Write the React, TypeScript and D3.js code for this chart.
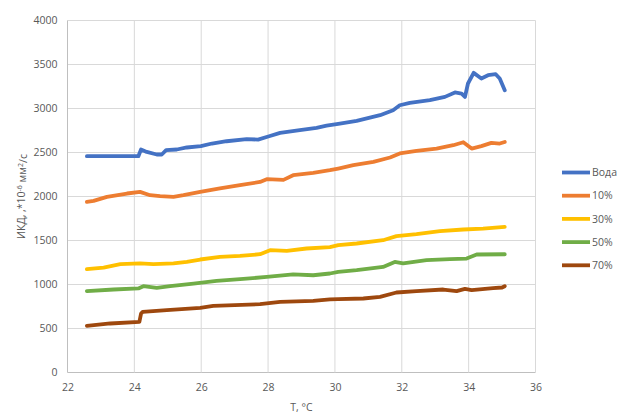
import React, { useEffect, useRef } from 'react';
import * as d3 from 'd3';

type Pt = [number, number];

const xTicks = [22, 24, 26, 28, 30, 32, 34, 36];
const yTicks = [0, 500, 1000, 1500, 2000, 2500, 3000, 3500, 4000];

const seriesNames = ['Вода', '10%', '30%', '50%', '70%'];
const seriesColors = ['#4472C4', '#ED7D31', '#FFC000', '#70AD47', '#9E480E'];

const voda: Pt[] = [
    [22.58, 2458], [24.12, 2458], [24.2, 2534], [24.37, 2507], [24.67, 2477], [24.82, 2477],
    [24.95, 2526], [25.27, 2534], [25.57, 2557], [25.99, 2572], [26.32, 2602], [26.76, 2628],
    [27.36, 2651], [27.7, 2647], [28.03, 2685], [28.36, 2723], [28.95, 2753], [29.45, 2780],
    [29.75, 2805], [30.1, 2825], [30.65, 2859], [31.35, 2924], [31.74, 2981], [31.94, 3037],
    [32.24, 3064], [32.84, 3094], [33.29, 3132], [33.59, 3182], [33.79, 3170], [33.89, 3132],
    [33.98, 3284], [34.15, 3405], [34.38, 3341], [34.58, 3378], [34.81, 3390], [34.93, 3341],
    [35.08, 3208]
];

const pct10: Pt[] = [
    [22.58, 1939], [22.78, 1950], [23.18, 1996], [23.78, 2034], [24.17, 2053], [24.47, 2015],
    [24.77, 2004], [25.17, 1996], [25.47, 2015], [25.97, 2053], [26.56, 2091], [27.16, 2128],
    [27.76, 2166], [27.96, 2197], [28.46, 2189], [28.75, 2242], [29.35, 2268], [29.85, 2299],
    [30.1, 2318], [30.55, 2356], [31.15, 2393], [31.65, 2443], [31.94, 2489], [32.44, 2518],
    [33.04, 2545], [33.54, 2583], [33.84, 2617], [34.09, 2545], [34.38, 2572], [34.68, 2609],
    [34.93, 2602], [35.08, 2620]
];

const pct30: Pt[] = [
    [22.58, 1174], [23.08, 1193], [23.58, 1231], [24.17, 1239], [24.57, 1231], [25.17, 1239],
    [25.57, 1257], [25.97, 1284], [26.56, 1314], [27.16, 1325], [27.76, 1344], [28.06, 1390],
    [28.56, 1382], [29.15, 1409], [29.85, 1425], [30.1, 1447], [30.65, 1466], [31.44, 1503],
    [31.84, 1549], [32.44, 1572], [33.14, 1606], [33.84, 1625], [34.43, 1636], [35.08, 1655]
];

const pct50: Pt[] = [
    [22.58, 924], [23.38, 943], [24.12, 955], [24.27, 981], [24.67, 961], [25.07, 981],
    [25.77, 1011], [26.46, 1041], [27.26, 1064], [27.96, 1086], [28.75, 1114], [29.35, 1105],
    [29.85, 1125], [30.1, 1143], [30.65, 1163], [31.44, 1200], [31.79, 1257], [32.04, 1239],
    [32.74, 1276], [33.44, 1288], [33.94, 1295], [34.24, 1341], [35.08, 1344]
];

const pct70: Pt[] = [
    [22.58, 530], [23.28, 557], [24.15, 575], [24.2, 670], [24.25, 689], [24.97, 708],
    [25.97, 734], [26.36, 757], [27.76, 776], [28.36, 802], [29.35, 814], [29.85, 830],
    [30.1, 833], [30.85, 841], [31.35, 859], [31.84, 909], [32.44, 924], [33.24, 943],
    [33.64, 924], [33.89, 950], [34.09, 935], [34.73, 958], [35.0, 966], [35.08, 981]
];

const allSeries = [voda, pct10, pct30, pct50, pct70];

const W = 617;
const H = 416;
const font = '"Open Sans", "Liberation Sans", sans-serif';
const textColor = '#595959';

export default function App() {
    const svgRef = useRef<SVGSVGElement>(null);

    useEffect(() => {
        if (!svgRef.current) return;
        const svg = d3.select(svgRef.current);
        svg.selectAll('*').remove();

        const x = d3.scaleLinear().domain([22, 36]).range([67.5, 535.5]);
        const y = d3.scaleLinear().domain([0, 4000]).range([372.5, 20.5]);

        const g = svg.append('g');

        // grid
        g.append('g')
            .selectAll('line')
            .data(yTicks)
            .join('line')
            .attr('x1', x(22)).attr('x2', x(36))
            .attr('y1', d => y(d)).attr('y2', d => y(d))
            .attr('stroke', d => (d === 0 ? '#bfbfbf' : '#d9d9d9'))
            .attr('stroke-width', 1);

        g.append('g')
            .selectAll('line')
            .data(xTicks)
            .join('line')
            .attr('x1', d => x(d)).attr('x2', d => x(d))
            .attr('y1', y(0)).attr('y2', y(4000))
            .attr('stroke', d => (d === 22 ? '#bfbfbf' : '#d9d9d9'))
            .attr('stroke-width', 1);

        // tick labels via d3 axes
        const axisX = d3.axisBottom(x).tickValues(xTicks).tickSize(0).tickPadding(11).tickFormat(d3.format('d'));
        const axisY = d3.axisLeft(y).tickValues(yTicks).tickSize(0).tickPadding(10).tickFormat(d3.format('d'));

        const gx = g.append('g').attr('transform', `translate(0,${y(0)})`).call(axisX);
        const gy = g.append('g').attr('transform', `translate(${x(22)},0)`).call(axisY);
        [gx, gy].forEach(a => {
            a.select('.domain').remove();
            a.selectAll('text')
                .attr('fill', textColor)
                .style('font-family', font)
                .style('font-size', '10.5px');
        });

        // lines
        const line = d3.line<Pt>().x(d => x(d[0])).y(d => y(d[1]));
        allSeries.forEach((s, i) => {
            g.append('path')
                .datum(s)
                .attr('fill', 'none')
                .attr('stroke', seriesColors[i])
                .attr('stroke-width', 3.8)
                .attr('stroke-linejoin', 'round')
                .attr('stroke-linecap', 'round')
                .attr('d', line);
        });

        // legend
        const lg = g.append('g');
        seriesNames.forEach((name, i) => {
            const ly = 172.5 + i * 23.2;
            lg.append('line')
                .attr('x1', 562).attr('x2', 590)
                .attr('y1', ly).attr('y2', ly)
                .attr('stroke', seriesColors[i])
                .attr('stroke-width', 3.8);
            lg.append('text')
                .attr('x', 592).attr('y', ly)
                .attr('dy', '0.35em')
                .attr('fill', textColor)
                .style('font-family', font)
                .style('font-size', '10.5px')
                .text(name);
        });

        // axis titles
        g.append('text')
            .attr('x', (x(22) + x(36)) / 2)
            .attr('y', 407)
            .attr('dy', '0.35em')
            .attr('text-anchor', 'middle')
            .attr('fill', textColor)
            .style('font-family', font)
            .style('font-size', '10.5px')
            .text('T, °C');

        const yt = g.append('text')
            .attr('transform', `translate(21,${(y(0) + y(4000)) / 2}) rotate(-90)`)
            .attr('dy', '0.35em')
            .attr('text-anchor', 'middle')
            .attr('fill', textColor)
            .style('font-family', font)
            .style('font-size', '10.5px');
        yt.append('tspan').text('ИКД, ,*10');
        yt.append('tspan').attr('dy', '-0.4em').style('font-size', '7px').text('-6');
        yt.append('tspan').attr('dy', '0.4em').text(' мм');
        yt.append('tspan').attr('dy', '-0.4em').style('font-size', '7px').text('2');
        yt.append('tspan').attr('dy', '0.4em').text('/с');
    }, []);

    return (
        <svg
            ref={svgRef}
            width={W}
            height={H}
            style={{ position: 'absolute', left: 0, top: 0, background: '#fff' }}
        />
    );
}
